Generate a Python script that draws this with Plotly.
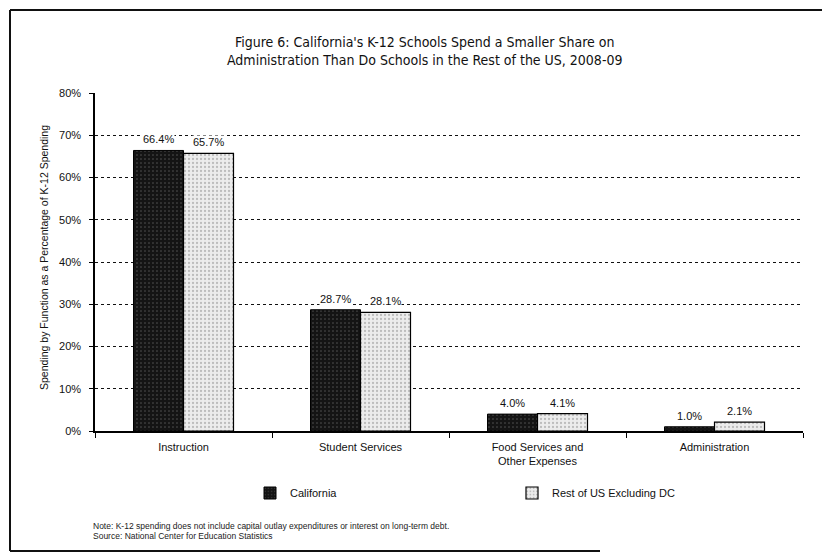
import plotly.graph_objects as go

categories = ["Instruction", "Student Services", "Food Services and<br>Other Expenses", "Administration"]
series_names = ["California", "Rest of US Excluding DC"]
california = [66.4, 28.7, 4.0, 1.0]
rest_of_us = [65.7, 28.1, 4.1, 2.1]
y_ticks = [0, 10, 20, 30, 40, 50, 60, 70, 80]

W, H = 822, 557
L, R, T, B = 95, 19, 93, 126
PW, PH = W - L - R, H - T - B

def px(x):
    return (x - L) / PW

def py(y):
    return (H - B - y) / PH

FONT = "Liberation Sans, Arial, sans-serif"
NARROW = "Liberation Sans Narrow, DejaVu Sans Condensed, Arial Narrow, Liberation Sans, sans-serif"

fig = go.Figure()
fig.add_trace(go.Bar(
    name=series_names[0], x=categories, y=california,
    marker=dict(color="#141414", line=dict(color="#000000", width=1),
                pattern=dict(shape=".", fgcolor="#9a9a9a", bgcolor="#141414", size=4, solidity=0.12)),
))
fig.add_trace(go.Bar(
    name=series_names[1], x=categories, y=rest_of_us,
    marker=dict(color="#e6e6e6", line=dict(color="#000000", width=1.2),
                pattern=dict(shape=".", fgcolor="#8c8c8c", bgcolor="#ececec", size=4, solidity=0.25)),
))

annotations = []
for vals, shift in ((california, -25), (rest_of_us, 25)):
    for c, v in zip(categories, vals):
        annotations.append(dict(
            x=c, y=v, xref="x", yref="y", text=f"{v:.1f}%", showarrow=False,
            xshift=shift, yshift=11, bgcolor="white", borderpad=0,
            font=dict(family=FONT, size=11, color="#111")))

annotations += [
    dict(x=px(424), y=py(32), xref="paper", yref="paper", showarrow=False,
         xanchor="center", yanchor="top",
         text="Figure 6: California's K-12 Schools Spend a Smaller Share on<br>Administration Than Do Schools in the Rest of the US, 2008-09",
         font=dict(family=NARROW, size=14, color="#111"), align="center"),
    dict(x=px(36), y=py(258), xref="paper", yref="paper", showarrow=False, textangle=-90,
         text="Spending by Function as a Percentage of K-12 Spending",
         font=dict(family=FONT, size=10.5, color="#111")),
    dict(x=px(91), y=py(533), xref="paper", yref="paper", showarrow=False, xanchor="left",
         text="Note: K-12 spending does not include capital outlay expenditures or interest on long-term debt.",
         font=dict(family=FONT, size=8.5, color="#222")),
    dict(x=px(91), y=py(543), xref="paper", yref="paper", showarrow=False, xanchor="left",
         text="Source: National Center for Education Statistics",
         font=dict(family=FONT, size=8.5, color="#222")),
]

shapes = [
    dict(type="line", xref="paper", yref="paper", x0=px(10), x1=px(822), y0=py(10), y1=py(10),
         line=dict(color="#111", width=2)),
    dict(type="line", xref="paper", yref="paper", x0=px(10), x1=px(10), y0=py(10), y1=py(551),
         line=dict(color="#111", width=2)),
    dict(type="line", xref="paper", yref="paper", x0=px(10), x1=px(600), y0=py(551), y1=py(551),
         line=dict(color="#111", width=2)),
]

fig.update_layout(
    width=W, height=H,
    margin=dict(l=L, r=R, t=T, b=B, pad=0),
    paper_bgcolor="white", plot_bgcolor="white",
    barmode="group", bargap=0.435, bargroupgap=0,
    font=dict(family=FONT, size=11, color="#111"),
    showlegend=True,
    legend=dict(orientation="h", x=px(250), y=py(493), xanchor="left", yanchor="middle",
                entrywidth=217, itemwidth=30, font=dict(family=FONT, size=11, color="#111"),
                bgcolor="rgba(0,0,0,0)"),
    annotations=annotations, shapes=shapes,
)
fig.update_xaxes(
    showline=True, linecolor="#000", linewidth=1.5, ticks="outside", tickson="boundaries",
    ticklen=5, tickcolor="#000", showgrid=False, tickfont=dict(family=FONT, size=11),
    ticklabelstandoff=5,
)
fig.update_yaxes(
    range=[0, 80], tickvals=y_ticks, ticktext=[f"{t}%" for t in y_ticks],
    showline=True, linecolor="#000", linewidth=1.5, ticks="outside", ticklen=4, tickcolor="#000",
    showgrid=True, gridcolor="#111", gridwidth=1, griddash="dot", zeroline=False,
    tickfont=dict(family=FONT, size=11), ticklabelstandoff=6,
)

fig.write_html("out.html")
